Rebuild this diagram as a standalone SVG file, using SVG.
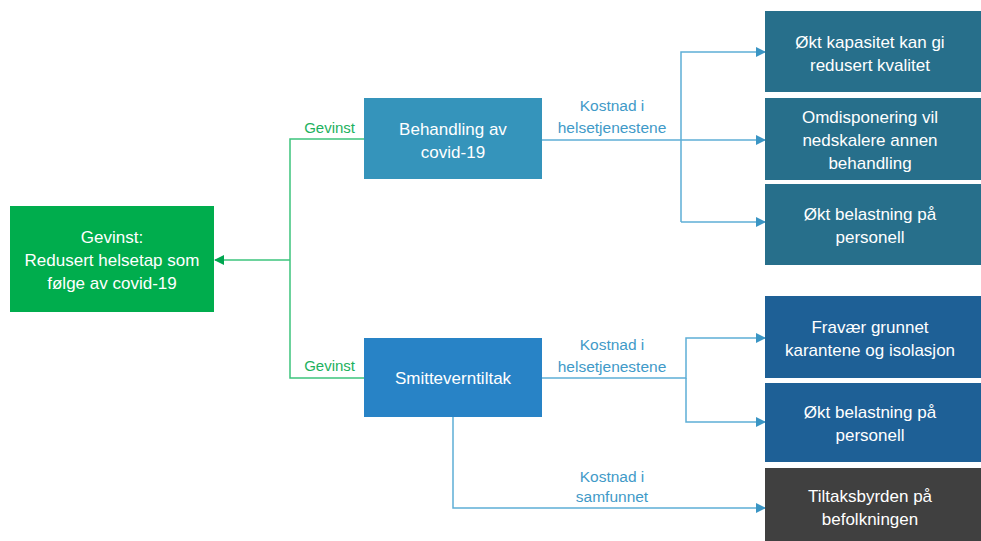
<svg xmlns="http://www.w3.org/2000/svg" width="981" height="541" viewBox="0 0 981 541">
<defs>
<style>
.nt{font-family:"Liberation Sans",Arial,sans-serif;font-size:17px;fill:#ffffff;text-anchor:middle}
.lb{font-family:"Liberation Sans",Arial,sans-serif;font-size:15.5px;fill:#3F9AC8;text-anchor:middle}
.lg{font-family:"Liberation Sans",Arial,sans-serif;font-size:15px;fill:#1DB15E;text-anchor:end}
.cb{fill:none;stroke:#5EAED6;stroke-width:1.5}
.cg{fill:none;stroke:#3CC47C;stroke-width:1.5}
</style>
<marker id="ab" markerWidth="10" markerHeight="10" refX="9" refY="5" orient="auto" markerUnits="userSpaceOnUse"><path d="M0,0 L10,5 L0,10 z" fill="#3A95C4"/></marker>
<marker id="ag" markerWidth="10" markerHeight="10" refX="9" refY="5" orient="auto" markerUnits="userSpaceOnUse"><path d="M0,0 L10,5 L0,10 z" fill="#00A650"/></marker>
</defs>
<rect width="981" height="541" fill="#ffffff"/>
<g id="connectors">
<path class="cg" d="M364,139 H290 V378 H364"/>
<path class="cg" d="M290,260 H215" marker-end="url(#ag)"/>
<path class="cb" d="M542,140 H765" marker-end="url(#ab)"/>
<path class="cb" d="M681,222 V52 H765" marker-end="url(#ab)"/>
<path class="cb" d="M681,222 H765" marker-end="url(#ab)"/>
<path class="cb" d="M542,378 H686 V338 H765" marker-end="url(#ab)"/>
<path class="cb" d="M686,378 V422 H765" marker-end="url(#ab)"/>
<path class="cb" d="M453,417 V508 H765" marker-end="url(#ab)"/>
<text class="lg" x="355" y="133">Gevinst</text>
<text class="lg" x="355" y="371">Gevinst</text>
<text class="lb" x="612" y="111">Kostnad i</text>
<text class="lb" x="612" y="133">helsetjenestene</text>
<text class="lb" x="612" y="350">Kostnad i</text>
<text class="lb" x="612" y="372">helsetjenestene</text>
<text class="lb" x="612" y="482">Kostnad i</text>
<text class="lb" x="612" y="502">samfunnet</text>
</g>
<g id="gevinst">
<rect x="10" y="206" width="204" height="106" fill="#00AD4D"/>
<text class="nt" x="112" y="243">Gevinst:</text>
<text class="nt" x="112" y="266">Redusert helsetap som</text>
<text class="nt" x="112" y="289">følge av covid-19</text>
</g>
<g id="behandling">
<rect x="364" y="98" width="178" height="81" fill="#3594BB"/>
<text class="nt" x="453" y="135">Behandling av</text>
<text class="nt" x="453" y="158">covid-19</text>
</g>
<g id="smittevern">
<rect x="364" y="338" width="178" height="79" fill="#2883C6"/>
<text class="nt" x="453" y="384">Smitteverntiltak</text>
</g>
<g id="kapasitet">
<rect x="765" y="11" width="216" height="81" fill="#276F8B"/>
<text class="nt" x="870" y="48">Økt kapasitet kan gi</text>
<text class="nt" x="870" y="71">redusert kvalitet</text>
</g>
<g id="omdisponering">
<rect x="765" y="98" width="216" height="82" fill="#276F8B"/>
<text class="nt" x="870" y="123">Omdisponering vil</text>
<text class="nt" x="870" y="146">nedskalere annen</text>
<text class="nt" x="870" y="169">behandling</text>
</g>
<g id="belastning1">
<rect x="765" y="184" width="216" height="81" fill="#276F8B"/>
<text class="nt" x="870" y="220">Økt belastning på</text>
<text class="nt" x="870" y="243">personell</text>
</g>
<g id="fravaer">
<rect x="765" y="296" width="216" height="82" fill="#1E6096"/>
<text class="nt" x="870" y="333">Fravær grunnet</text>
<text class="nt" x="870" y="356">karantene og isolasjon</text>
</g>
<g id="belastning2">
<rect x="765" y="383" width="216" height="79" fill="#1E6096"/>
<text class="nt" x="870" y="418">Økt belastning på</text>
<text class="nt" x="870" y="441">personell</text>
</g>
<g id="tiltaksbyrden">
<rect x="765" y="468" width="216" height="73" fill="#404040"/>
<text class="nt" x="870" y="502">Tiltaksbyrden på</text>
<text class="nt" x="870" y="525">befolkningen</text>
</g>
</svg>
